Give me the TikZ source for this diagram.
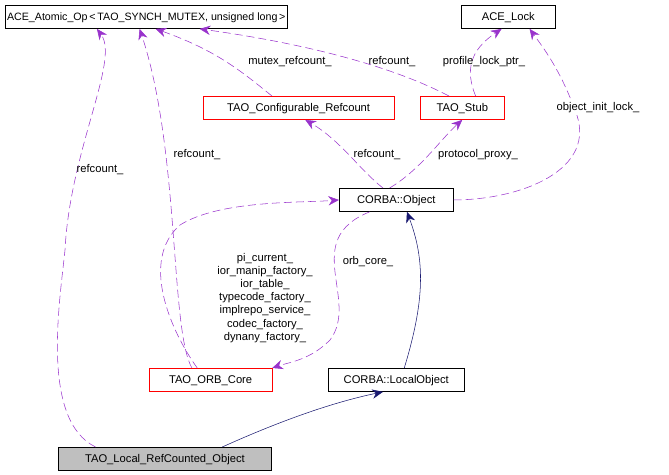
\documentclass[tikz,border=0pt]{standalone}
\usepackage{fontspec}
\setmainfont{Liberation Sans}
\usetikzlibrary{arrows.meta}
\begin{document}
\begin{tikzpicture}[x=0.75pt,y=-0.75pt,
  box/.style={draw=#1,fill=white,minimum height=17.5pt,inner sep=2pt,font=\fontsize{8.4}{9}\selectfont,anchor=north west,text height=6.5pt,text depth=1.8pt},
  dep/.style={draw={rgb,255:red,153;green,51;blue,204},dashed,dash pattern=on 6pt off 3pt,-{Stealth[length=8pt,width=7pt,fill={rgb,255:red,153;green,51;blue,204}]}},
  inh/.style={draw={rgb,255:red,25;green,25;blue,112},-{Stealth[length=8pt,width=7pt,fill={rgb,255:red,25;green,25;blue,112}]}},
  lbl/.style={font=\fontsize{8.4}{9.8}\selectfont,align=center,inner sep=1pt}]
\useasboundingbox (0,0) rectangle (669,475);
\node[box=black,minimum width=211.5pt,inner sep=1pt,font=\fontsize{8}{9}\selectfont] (atomic) at (5,5) {ACE\_Atomic\_Op\,<\,TAO\_SYNCH\_MUTEX, unsigned long\,>};
\node[box=black,minimum width=70.5pt] (lock) at (461,5) {ACE\_Lock};
\node[box=red,minimum width=143pt] (conf) at (203,96) {TAO\_Configurable\_Refcount};
\node[box=red,minimum width=63pt] (stub) at (420,96) {TAO\_Stub};
\node[box=black,minimum width=85.5pt] (obj) at (339,188) {CORBA::Object};
\node[box=red,minimum width=92pt] (orb) at (149,368) {TAO\_ORB\_Core};
\node[box=black,minimum width=102pt] (lobj) at (328,368) {CORBA::LocalObject};
\node[box=black,fill={rgb,255:red,191;green,191;blue,191},minimum width=160pt] (local) at (58,447) {TAO\_Local\_RefCounted\_Object};
% inheritance
\draw[inh] ([xshift=6pt]lobj.north) .. controls (425,300) and (425,260) .. ([xshift=8pt]obj.south);
\draw[inh] ([xshift=43pt]local.north) .. controls (260,430) and (320,405) .. ([xshift=-10pt]lobj.south);
% dependencies
\draw[dep] ([xshift=-52pt]local.north) .. controls (40,420) and (60,300) .. (65,250) .. controls (70,150) and (120,60) .. ([xshift=-37pt]atomic.south);
\node[lbl] at (100,170) {refcount\_};
\draw[dep] ([xshift=-14pt]orb.north) .. controls (170,330) and (180,150) .. ([xshift=-5pt]atomic.south);
\node[lbl] at (197,155) {refcount\_};
\draw[dep] ([xshift=-20pt]conf.north) .. controls (240,70) and (215,50) .. ([xshift=7pt]atomic.south);
\node[lbl] at (290,62) {mutex\_refcount\_};
\draw[dep] ([xshift=-10pt]stub.north) .. controls (380,60) and (280,40) .. ([xshift=40pt]atomic.south);
\node[lbl] at (392,62) {refcount\_};
\draw[dep] ([xshift=10pt]stub.north) .. controls (465,70) and (470,50) .. ([xshift=-5pt]lock.south);
\node[lbl] at (484,62) {profile\_lock\_ptr\_};
\draw[dep] (obj.east) .. controls (520,200) and (600,170) .. (575,110) .. controls (560,70) and (545,50) .. ([xshift=16pt]lock.south);
\node[lbl,fill=white] at (598,108) {object\_init\_lock\_};
\draw[dep] ([xshift=-10pt]obj.north) .. controls (360,170) and (340,140) .. ([xshift=5pt]conf.south);
\node[lbl] at (377,155) {refcount\_};
\draw[dep] ([xshift=-5pt]obj.north) .. controls (420,170) and (440,140) .. (stub.south);
\node[lbl] at (478,155) {protocol\_proxy\_};
\draw[dep] ([xshift=-10pt]orb.north) .. controls (170,330) and (140,260) .. (180,225) .. controls (220,200) and (300,203) .. (obj.west);
\node[lbl] at (265,298) {pi\_current\_\\ior\_manip\_factory\_\\ior\_table\_\\typecode\_factory\_\\implrepo\_service\_\\codec\_factory\_\\dynany\_factory\_};
\draw[dep] ([xshift=-20pt]obj.south) .. controls (300,240) and (360,300) .. (330,340) .. controls (310,360) and (290,362) .. (orb.north east);
\node[lbl] at (368,262) {orb\_core\_};
\end{tikzpicture}
\end{document}
